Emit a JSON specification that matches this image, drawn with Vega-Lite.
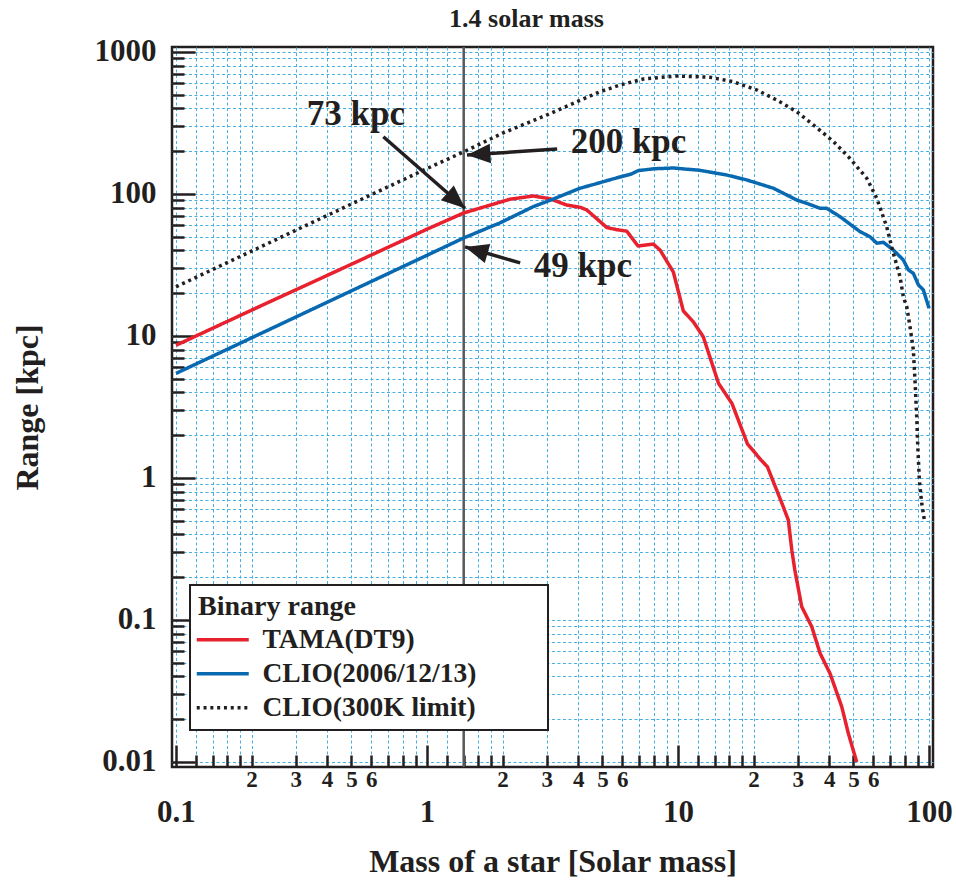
{
  "$schema": "https://vega.github.io/schema/vega-lite/v6.json",
  "width": 761,
  "height": 720,
  "autosize": "none",
  "padding": {"left": 172, "top": 47, "right": 23, "bottom": 117},
  "background": "white",
  "config": {
    "view": {"stroke": "#231f20", "strokeWidth": 2.5},
    "font": "Liberation Serif",
    "legend": {"strokeWidth": 2}
  },
  "title": {
    "text": "1.4 solar mass",
    "frame": "group",
    "anchor": "middle",
    "dx": -26,
    "offset": 4,
    "font": "Liberation Serif",
    "fontSize": 26,
    "fontWeight": "bold",
    "color": "#231f20"
  },
  "datasets": {
    "curves": [
      {"series": "TAMA(DT9)", "mass": 0.1, "range": 8.6},
      {"series": "TAMA(DT9)", "mass": 0.2, "range": 15.2},
      {"series": "TAMA(DT9)", "mass": 0.5, "range": 32},
      {"series": "TAMA(DT9)", "mass": 1, "range": 56.5},
      {"series": "TAMA(DT9)", "mass": 1.4, "range": 73.5},
      {"series": "TAMA(DT9)", "mass": 2.14, "range": 91.8},
      {"series": "TAMA(DT9)", "mass": 2.65, "range": 96.8},
      {"series": "TAMA(DT9)", "mass": 3.09, "range": 92.5},
      {"series": "TAMA(DT9)", "mass": 3.6, "range": 83.6},
      {"series": "TAMA(DT9)", "mass": 4.07, "range": 80.6},
      {"series": "TAMA(DT9)", "mass": 4.33, "range": 77.2},
      {"series": "TAMA(DT9)", "mass": 5.2, "range": 58.1},
      {"series": "TAMA(DT9)", "mass": 5.66, "range": 56.2},
      {"series": "TAMA(DT9)", "mass": 6.25, "range": 54.7},
      {"series": "TAMA(DT9)", "mass": 6.93, "range": 43},
      {"series": "TAMA(DT9)", "mass": 7.97, "range": 44.4},
      {"series": "TAMA(DT9)", "mass": 8.48, "range": 40.3},
      {"series": "TAMA(DT9)", "mass": 9.58, "range": 28.2},
      {"series": "TAMA(DT9)", "mass": 10.5, "range": 15},
      {"series": "TAMA(DT9)", "mass": 11.5, "range": 12.6},
      {"series": "TAMA(DT9)", "mass": 12.6, "range": 9.89},
      {"series": "TAMA(DT9)", "mass": 14.5, "range": 4.64},
      {"series": "TAMA(DT9)", "mass": 16.4, "range": 3.35},
      {"series": "TAMA(DT9)", "mass": 18.9, "range": 1.74},
      {"series": "TAMA(DT9)", "mass": 21.4, "range": 1.34},
      {"series": "TAMA(DT9)", "mass": 22.7, "range": 1.2},
      {"series": "TAMA(DT9)", "mass": 26.1, "range": 0.645},
      {"series": "TAMA(DT9)", "mass": 27.5, "range": 0.506},
      {"series": "TAMA(DT9)", "mass": 28.4, "range": 0.31},
      {"series": "TAMA(DT9)", "mass": 29.2, "range": 0.225},
      {"series": "TAMA(DT9)", "mass": 31.1, "range": 0.124},
      {"series": "TAMA(DT9)", "mass": 34.1, "range": 0.0897},
      {"series": "TAMA(DT9)", "mass": 36.8, "range": 0.0583},
      {"series": "TAMA(DT9)", "mass": 40.3, "range": 0.0421},
      {"series": "TAMA(DT9)", "mass": 44.9, "range": 0.0245},
      {"series": "TAMA(DT9)", "mass": 47.7, "range": 0.0159},
      {"series": "TAMA(DT9)", "mass": 51.5, "range": 0.01},
      {"series": "CLIO(2006/12/13)", "mass": 0.1, "range": 5.45},
      {"series": "CLIO(2006/12/13)", "mass": 0.2, "range": 9.7},
      {"series": "CLIO(2006/12/13)", "mass": 0.5, "range": 20.8},
      {"series": "CLIO(2006/12/13)", "mass": 1, "range": 37},
      {"series": "CLIO(2006/12/13)", "mass": 1.4, "range": 49},
      {"series": "CLIO(2006/12/13)", "mass": 1.95, "range": 62.5},
      {"series": "CLIO(2006/12/13)", "mass": 2.65, "range": 81.4},
      {"series": "CLIO(2006/12/13)", "mass": 3.19, "range": 92.2},
      {"series": "CLIO(2006/12/13)", "mass": 4.07, "range": 109.7},
      {"series": "CLIO(2006/12/13)", "mass": 4.89, "range": 120.2},
      {"series": "CLIO(2006/12/13)", "mass": 5.87, "range": 131.8},
      {"series": "CLIO(2006/12/13)", "mass": 6.5, "range": 138},
      {"series": "CLIO(2006/12/13)", "mass": 6.93, "range": 145.9},
      {"series": "CLIO(2006/12/13)", "mass": 8, "range": 150.5},
      {"series": "CLIO(2006/12/13)", "mass": 9.58, "range": 152.4},
      {"series": "CLIO(2006/12/13)", "mass": 12.2, "range": 146.8},
      {"series": "CLIO(2006/12/13)", "mass": 15.6, "range": 136.1},
      {"series": "CLIO(2006/12/13)", "mass": 18.8, "range": 125.5},
      {"series": "CLIO(2006/12/13)", "mass": 24, "range": 109.7},
      {"series": "CLIO(2006/12/13)", "mass": 29.7, "range": 90.7},
      {"series": "CLIO(2006/12/13)", "mass": 32.6, "range": 85.9},
      {"series": "CLIO(2006/12/13)", "mass": 36.8, "range": 79.3},
      {"series": "CLIO(2006/12/13)", "mass": 39.1, "range": 79.3},
      {"series": "CLIO(2006/12/13)", "mass": 44.2, "range": 69.2},
      {"series": "CLIO(2006/12/13)", "mass": 53.1, "range": 54.3},
      {"series": "CLIO(2006/12/13)", "mass": 58.2, "range": 50},
      {"series": "CLIO(2006/12/13)", "mass": 61.9, "range": 45},
      {"series": "CLIO(2006/12/13)", "mass": 65.8, "range": 45.7},
      {"series": "CLIO(2006/12/13)", "mass": 72.1, "range": 40.3},
      {"series": "CLIO(2006/12/13)", "mass": 79, "range": 34.3},
      {"series": "CLIO(2006/12/13)", "mass": 82.7, "range": 29.2},
      {"series": "CLIO(2006/12/13)", "mass": 86.6, "range": 27.6},
      {"series": "CLIO(2006/12/13)", "mass": 90.7, "range": 22.9},
      {"series": "CLIO(2006/12/13)", "mass": 94.9, "range": 21.1},
      {"series": "CLIO(2006/12/13)", "mass": 100, "range": 15.7},
      {"series": "CLIO(300K limit)", "mass": 0.1, "range": 22.2},
      {"series": "CLIO(300K limit)", "mass": 0.2, "range": 39.6},
      {"series": "CLIO(300K limit)", "mass": 0.5, "range": 85},
      {"series": "CLIO(300K limit)", "mass": 1, "range": 151},
      {"series": "CLIO(300K limit)", "mass": 1.4, "range": 198},
      {"series": "CLIO(300K limit)", "mass": 2, "range": 268},
      {"series": "CLIO(300K limit)", "mass": 3, "range": 360},
      {"series": "CLIO(300K limit)", "mass": 4, "range": 450},
      {"series": "CLIO(300K limit)", "mass": 4.89, "range": 525},
      {"series": "CLIO(300K limit)", "mass": 5.87, "range": 585},
      {"series": "CLIO(300K limit)", "mass": 7.28, "range": 645},
      {"series": "CLIO(300K limit)", "mass": 9.88, "range": 678},
      {"series": "CLIO(300K limit)", "mass": 13.4, "range": 664},
      {"series": "CLIO(300K limit)", "mass": 16.6, "range": 618},
      {"series": "CLIO(300K limit)", "mass": 20.6, "range": 540},
      {"series": "CLIO(300K limit)", "mass": 24.7, "range": 459},
      {"series": "CLIO(300K limit)", "mass": 29.7, "range": 380},
      {"series": "CLIO(300K limit)", "mass": 35.7, "range": 293},
      {"series": "CLIO(300K limit)", "mass": 41.6, "range": 234},
      {"series": "CLIO(300K limit)", "mass": 48.4, "range": 178},
      {"series": "CLIO(300K limit)", "mass": 56.5, "range": 129},
      {"series": "CLIO(300K limit)", "mass": 61.9, "range": 93.2},
      {"series": "CLIO(300K limit)", "mass": 67.8, "range": 58.9},
      {"series": "CLIO(300K limit)", "mass": 71.5, "range": 40.3},
      {"series": "CLIO(300K limit)", "mass": 76.6, "range": 26.2},
      {"series": "CLIO(300K limit)", "mass": 79, "range": 18.9},
      {"series": "CLIO(300K limit)", "mass": 81.5, "range": 16.1},
      {"series": "CLIO(300K limit)", "mass": 84, "range": 11.6},
      {"series": "CLIO(300K limit)", "mass": 86.6, "range": 7.97},
      {"series": "CLIO(300K limit)", "mass": 87.9, "range": 4.9},
      {"series": "CLIO(300K limit)", "mass": 89.3, "range": 2.7},
      {"series": "CLIO(300K limit)", "mass": 90.2, "range": 1.66},
      {"series": "CLIO(300K limit)", "mass": 91.5, "range": 0.968},
      {"series": "CLIO(300K limit)", "mass": 93.5, "range": 0.663},
      {"series": "CLIO(300K limit)", "mass": 95.8, "range": 0.506}
    ],
    "marker": [{"mass": 1.4}],
    "notes": [
      {"label": "73 kpc", "text_mass": 0.521, "text_range": 306, "tip_mass": 1.417, "tip_range": 79.3, "tail_mass": 0.67, "tail_range": 253},
      {"label": "200 kpc", "text_mass": 6.35, "text_range": 194, "tip_mass": 1.443, "tip_range": 188, "tail_mass": 3.3, "tail_range": 207},
      {"label": "49 kpc", "text_mass": 4.18, "text_range": 26, "tip_mass": 1.417, "tip_range": 42.4, "tail_mass": 2.35, "tail_range": 32.7}
    ]
  },
  "layer": [
    {
      "data": {"name": "marker"},
      "mark": {"type": "rule", "color": "#58595b", "strokeWidth": 2.5},
      "encoding": {
        "x": {"field": "mass", "type": "quantitative", "scale": {"type": "log", "domain": [0.0964, 103.7], "nice": false}, "axis": {"title": "Mass of a star [Solar mass]"}}
      }
    },
    {
      "data": {"name": "curves"},
      "mark": {"type": "line", "strokeWidth": 3.5, "strokeJoin": "round", "clip": true},
      "encoding": {
        "x": {
          "field": "mass", "type": "quantitative",
          "scale": {"type": "log", "domain": [0.0964, 103.7], "nice": false},
          "axis": {
            "title": "Mass of a star [Solar mass]",
            "values": [0.1,0.12,0.14,0.16,0.18,0.2,0.3,0.4,0.5,0.6,0.7,0.8,0.9,1,1.2,1.4,1.6,1.8,2,3,4,5,6,7,8,9,10,12,14,16,18,20,30,40,50,60,70,80,90,100],
            "format": "~g",
            "labelExpr": "indexof(['0.1','1','10','100'], datum.label) >= 0 ? datum.label : (test(regexp('^(0[.])?[2-6]0?$'), datum.label) ? replace(replace(datum.label, '0.', ''), '0', '') : '')",
            "labelFont": "Liberation Serif",
            "labelFontWeight": "bold",
            "labelColor": "#231f20",
            "labelFontSize": {"condition": {"test": "indexof([0.1,1,10,100], datum.value) >= 0", "value": 31}, "value": 23},
            "labelPadding": {"condition": {"test": "indexof([0.1,1,10,100], datum.value) >= 0", "value": 52}, "value": 13},
            "labelBaseline": "top",
            "labelFlush": false,
            "labelOverlap": false,
            "tickSize": {"condition": {"test": "indexof([0.1,1,10,100], datum.value) >= 0", "value": -22}, "value": -12},
            "tickWidth": 2.5,
            "tickColor": "#231f20",
            "domain": false,
            "grid": true,
            "gridColor": "#48afe4",
            "gridDash": [3, 2.5],
            "gridWidth": 1,
            "titleFont": "Liberation Serif",
            "titleFontSize": 32,
            "titleFontWeight": "bold",
            "titleColor": "#231f20",
            "titlePadding": 19
          }
        },
        "y": {
          "field": "range", "type": "quantitative",
          "scale": {"type": "log", "domain": [0.00922, 1084], "nice": false},
          "axis": {
            "title": "Range [kpc]",
            "values": [0.01,0.02,0.03,0.04,0.05,0.06,0.07,0.08,0.09,0.1,0.2,0.3,0.4,0.5,0.6,0.7,0.8,0.9,1,2,3,4,5,6,7,8,9,10,20,30,40,50,60,70,80,90,100,200,300,400,500,600,700,800,900,1000],
            "format": "~g",
            "labelExpr": "indexof(['0.01','0.1','1','10','100','1000'], datum.label) >= 0 ? datum.label : ''",
            "labelFont": "Liberation Serif",
            "labelFontWeight": "bold",
            "labelColor": "#231f20",
            "labelFontSize": 31,
            "labelPadding": 39,
            "labelOverlap": false,
            "labelFlush": false,
            "tickSize": {"condition": {"test": "indexof([0.01,0.1,1,10,100,1000], datum.value) >= 0", "value": -23}, "value": -12},
            "tickWidth": 2.5,
            "tickColor": "#231f20",
            "domain": false,
            "grid": true,
            "gridColor": "#48afe4",
            "gridDash": [3, 2.5],
            "gridWidth": 1,
            "titleFont": "Liberation Serif",
            "titleFontSize": 32,
            "titleFontWeight": "bold",
            "titleColor": "#231f20",
            "titlePadding": 50
          }
        },
        "color": {
          "field": "series", "type": "nominal",
          "scale": {"domain": ["TAMA(DT9)", "CLIO(2006/12/13)", "CLIO(300K limit)"], "range": ["#e8212e", "#0869b1", "#231f20"]},
          "legend": {
            "title": "Binary range",
            "orient": "none",
            "legendX": 18,
            "legendY": 538,
            "strokeColor": "#231f20",
            "fillColor": "white",
            "padding": 8,
            "cornerRadius": 0,
            "titleFont": "Liberation Serif",
            "titleFontSize": 28,
            "titleFontWeight": "bold",
            "titleColor": "#231f20",
            "titlePadding": 5,
            "labelFont": "Liberation Serif",
            "labelFontSize": 27.5,
            "labelFontWeight": "bold",
            "labelColor": "#231f20",
            "labelLimit": 500,
            "labelExpr": "datum.label + '\u2800\u2800\u2800'",
            "symbolType": "M-2.6,0H2.6",
            "symbolSize": 400,
            "symbolStrokeWidth": 3.5,
            "symbolOffset": 11,
            "labelOffset": 26,
            "rowPadding": 5
          }
        },
        "strokeDash": {
          "field": "series", "type": "nominal",
          "scale": {"domain": ["TAMA(DT9)", "CLIO(2006/12/13)", "CLIO(300K limit)"], "range": [[1, 0], [1, 0], [3, 3.8]]},
          "legend": {
            "title": "Binary range",
            "orient": "none",
            "legendX": 18,
            "legendY": 538,
            "strokeColor": "#231f20",
            "fillColor": "white",
            "padding": 8,
            "cornerRadius": 0,
            "titleFont": "Liberation Serif",
            "titleFontSize": 28,
            "titleFontWeight": "bold",
            "titleColor": "#231f20",
            "titlePadding": 5,
            "labelFont": "Liberation Serif",
            "labelFontSize": 27.5,
            "labelFontWeight": "bold",
            "labelColor": "#231f20",
            "labelLimit": 500,
            "labelExpr": "datum.label + '\u2800\u2800\u2800'",
            "symbolType": "M-2.6,0H2.6",
            "symbolSize": 400,
            "symbolStrokeWidth": 3.5,
            "symbolOffset": 11,
            "labelOffset": 26,
            "rowPadding": 5
          }
        }
      }
    },
    {
      "data": {"name": "notes"},
      "mark": {"type": "rule", "color": "#231f20", "strokeWidth": 3.5},
      "encoding": {
        "x": {"field": "tip_mass", "type": "quantitative", "scale": {"type": "log", "domain": [0.0964, 103.7], "nice": false}, "axis": {"title": "Mass of a star [Solar mass]"}},
        "x2": {"field": "tail_mass"},
        "y": {"field": "tip_range", "type": "quantitative", "scale": {"type": "log", "domain": [0.00922, 1084], "nice": false}, "axis": {"title": "Range [kpc]"}},
        "y2": {"field": "tail_range"}
      }
    },
    {
      "data": {"name": "notes"},
      "transform": [{"filter": "datum.label === '73 kpc'"}],
      "mark": {"type": "point", "shape": "M0,0L-1,-0.42L-1,0.42Z", "filled": true, "color": "#231f20", "opacity": 1, "size": 2200, "angle": 41.2},
      "encoding": {
        "x": {"field": "tip_mass", "type": "quantitative", "scale": {"type": "log", "domain": [0.0964, 103.7], "nice": false}, "axis": {"title": "Mass of a star [Solar mass]"}},
        "y": {"field": "tip_range", "type": "quantitative", "scale": {"type": "log", "domain": [0.00922, 1084], "nice": false}, "axis": {"title": "Range [kpc]"}}
      }
    },
    {
      "data": {"name": "notes"},
      "transform": [{"filter": "datum.label === '200 kpc'"}],
      "mark": {"type": "point", "shape": "M0,0L-1,-0.42L-1,0.42Z", "filled": true, "color": "#231f20", "opacity": 1, "size": 2200, "angle": 176.2},
      "encoding": {
        "x": {"field": "tip_mass", "type": "quantitative", "scale": {"type": "log", "domain": [0.0964, 103.7], "nice": false}, "axis": {"title": "Mass of a star [Solar mass]"}},
        "y": {"field": "tip_range", "type": "quantitative", "scale": {"type": "log", "domain": [0.00922, 1084], "nice": false}, "axis": {"title": "Range [kpc]"}}
      }
    },
    {
      "data": {"name": "notes"},
      "transform": [{"filter": "datum.label === '49 kpc'"}],
      "mark": {"type": "point", "shape": "M0,0L-1,-0.42L-1,0.42Z", "filled": true, "color": "#231f20", "opacity": 1, "size": 2200, "angle": 196.2},
      "encoding": {
        "x": {"field": "tip_mass", "type": "quantitative", "scale": {"type": "log", "domain": [0.0964, 103.7], "nice": false}, "axis": {"title": "Mass of a star [Solar mass]"}},
        "y": {"field": "tip_range", "type": "quantitative", "scale": {"type": "log", "domain": [0.00922, 1084], "nice": false}, "axis": {"title": "Range [kpc]"}}
      }
    },
    {
      "data": {"name": "notes"},
      "mark": {"type": "text", "font": "Liberation Serif", "fontSize": 35, "fontWeight": "bold", "color": "#231f20", "align": "center", "baseline": "alphabetic"},
      "encoding": {
        "x": {"field": "text_mass", "type": "quantitative", "scale": {"type": "log", "domain": [0.0964, 103.7], "nice": false}, "axis": {"title": "Mass of a star [Solar mass]"}},
        "y": {"field": "text_range", "type": "quantitative", "scale": {"type": "log", "domain": [0.00922, 1084], "nice": false}, "axis": {"title": "Range [kpc]"}},
        "text": {"field": "label"}
      }
    }
  ]
}
